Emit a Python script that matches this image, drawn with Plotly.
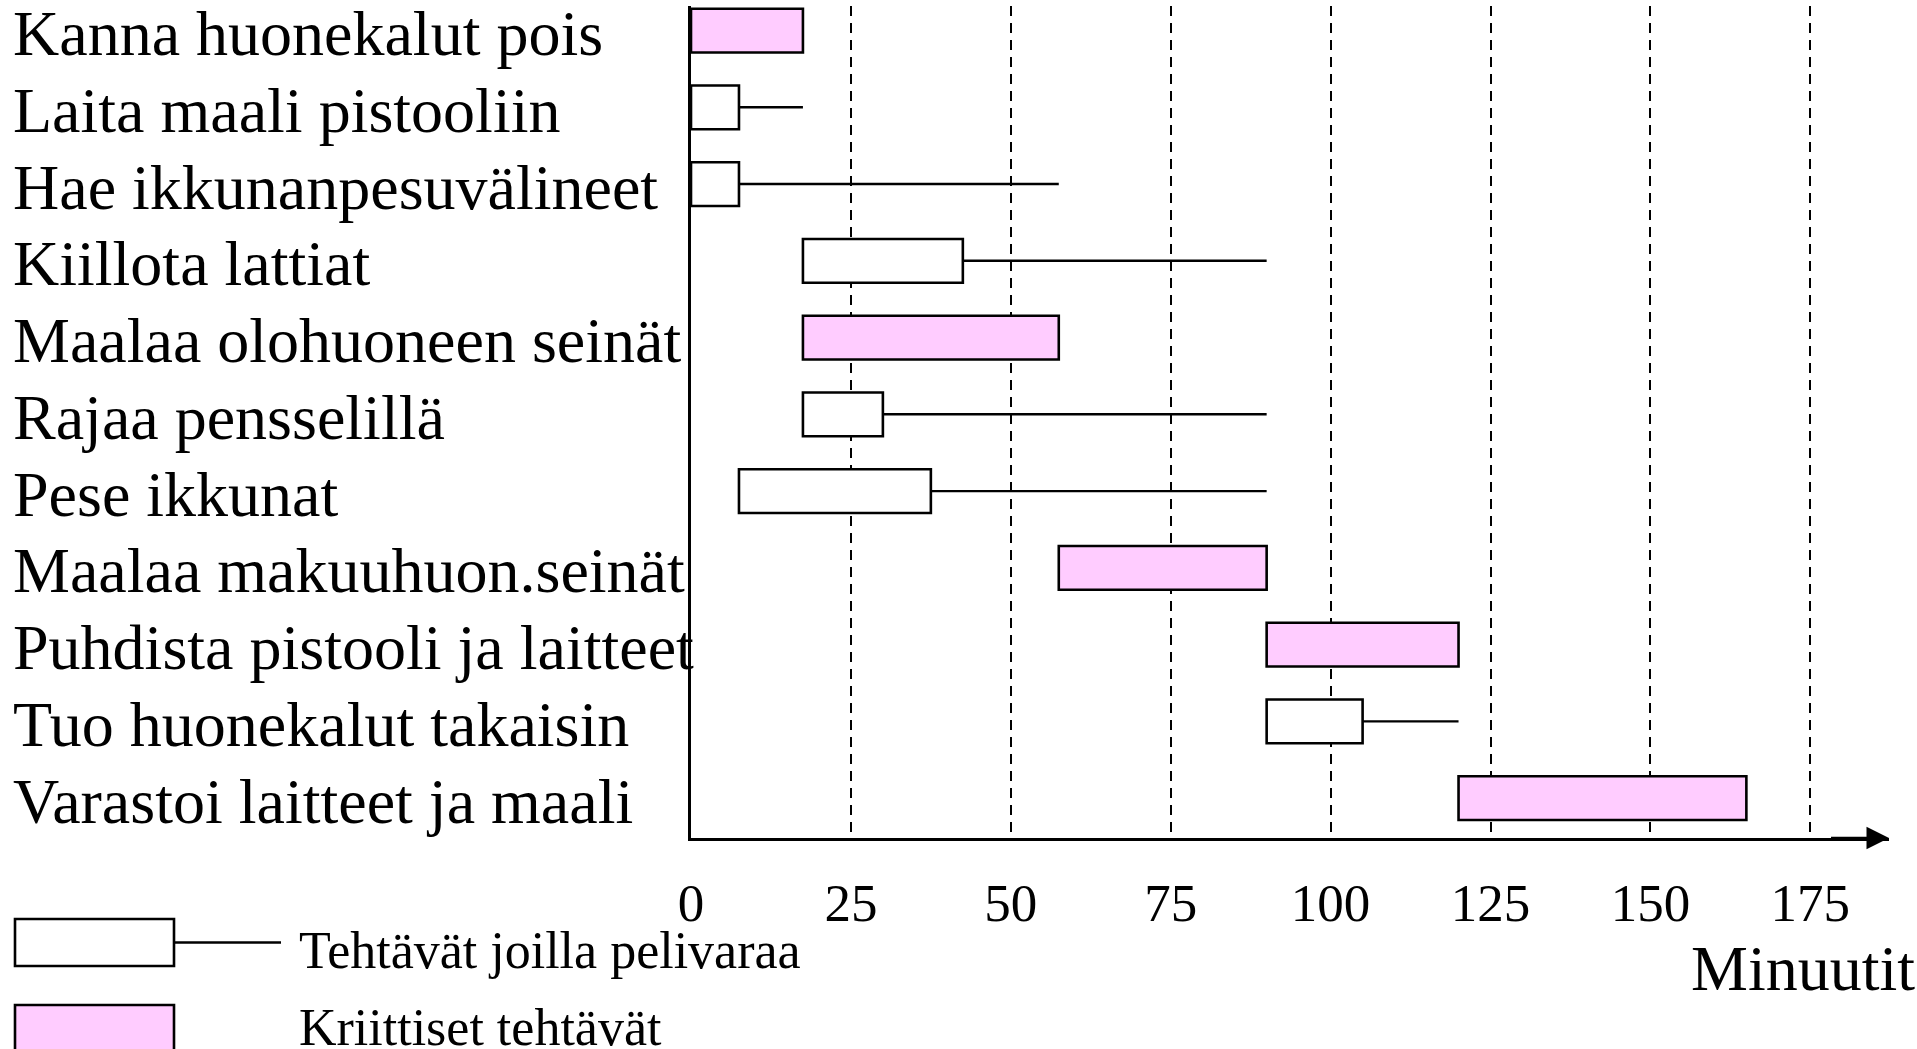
import plotly.graph_objects as go

# ---- data ----
tasks = [
    "Kanna huonekalut pois",
    "Laita maali pistooliin",
    "Hae ikkunanpesuvälineet",
    "Kiillota lattiat",
    "Maalaa olohuoneen seinät",
    "Rajaa pensselillä",
    "Pese ikkunat",
    "Maalaa makuuhuon.seinät",
    "Puhdista pistooli ja laitteet",
    "Tuo huonekalut takaisin",
    "Varastoi laitteet ja maali",
]
start = [0, 0, 0, 17.5, 17.5, 17.5, 7.5, 57.5, 90, 90, 120]
duration = [17.5, 7.5, 7.5, 25, 40, 12.5, 30, 32.5, 30, 15, 45]
slack_end = [None, 17.5, 57.5, 90, None, 90, 90, None, None, 120, None]
critical = [True, False, False, False, True, False, False, True, True, False, True]
x_ticks = [0, 25, 50, 75, 100, 125, 150, 175]
x_title = "Minuutit"
legend_slack = "Tehtävät joilla pelivaraa"
legend_crit = "Kriittiset tehtävät"

# ---- layout geometry (pixels) ----
W, H = 1917, 1049
L, R, T, B = 691, 28, 6, 211
PW, PH = W - L - R, H - T - B
FONT = "Liberation Serif, Times New Roman, serif"
PINK = "#FFCCFF"


def px_x(p):
    return (p - L) / PW


def px_y(p):
    return 1 - (p - T) / PH


rows = list(range(len(tasks)))

fig = go.Figure()

# critical and slack bars
for is_crit, color in [(True, PINK), (False, "white")]:
    idx = [i for i in rows if critical[i] == is_crit]
    fig.add_trace(go.Bar(
        orientation="h",
        y=[rows[i] for i in idx],
        x=[duration[i] for i in idx],
        base=[start[i] for i in idx],
        width=0.57,
        marker=dict(color=color, line=dict(color="black", width=2.6)),
        hoverinfo="skip",
        showlegend=False,
    ))

# slack lines
sx, sy = [], []
for i in rows:
    if slack_end[i] is not None:
        sx += [start[i] + duration[i], slack_end[i], None]
        sy += [rows[i], rows[i], None]
fig.add_trace(go.Scatter(
    x=sx, y=sy, mode="lines",
    line=dict(color="black", width=2.4),
    hoverinfo="skip", showlegend=False,
))

annotations = []
# task labels
for i, name in enumerate(tasks):
    annotations.append(dict(
        text=name, xref="paper", x=px_x(11), xanchor="left",
        yref="y", y=rows[i], yanchor="middle", yshift=-3,
        showarrow=False, font=dict(family=FONT, size=64, color="black"),
    ))
# axis arrow
annotations.append(dict(
    text="", xref="x", yref="y", x=187.3, y=10.52,
    axref="x", ayref="y", ax=178, ay=10.52,
    showarrow=True, arrowhead=2, arrowsize=1.8, arrowwidth=2.5,
    arrowcolor="black", standoff=0,
))
# axis title
annotations.append(dict(
    text=x_title, xref="paper", yref="paper", x=px_x(1803), y=px_y(968),
    xanchor="center", yanchor="middle", showarrow=False,
    font=dict(family=FONT, size=64, color="black"),
))
# legend texts
annotations.append(dict(
    text=legend_slack, xref="paper", yref="paper", x=px_x(297), y=px_y(950),
    xanchor="left", yanchor="middle", showarrow=False,
    font=dict(family=FONT, size=52, color="black"),
))
annotations.append(dict(
    text=legend_crit, xref="paper", yref="paper", x=px_x(297), y=px_y(1027),
    xanchor="left", yanchor="middle", showarrow=False,
    font=dict(family=FONT, size=52, color="black"),
))

shapes = [
    dict(type="rect", xref="paper", yref="paper",
         x0=px_x(15), x1=px_x(174), y0=px_y(919), y1=px_y(966),
         fillcolor="white", line=dict(color="black", width=2.6)),
    dict(type="line", xref="paper", yref="paper",
         x0=px_x(174), x1=px_x(281), y0=px_y(942.5), y1=px_y(942.5),
         line=dict(color="black", width=2.4)),
    dict(type="rect", xref="paper", yref="paper",
         x0=px_x(15), x1=px_x(174), y0=px_y(1005), y1=px_y(1070),
         fillcolor=PINK, line=dict(color="black", width=2.6)),
]

fig.update_layout(
    width=W, height=H,
    margin=dict(l=L, r=R, t=T, b=B, pad=0),
    paper_bgcolor="white", plot_bgcolor="white",
    barmode="overlay",
    showlegend=False,
    annotations=annotations,
    shapes=shapes,
    xaxis=dict(
        range=[0, 187.3], tickvals=x_ticks, ticktext=[str(v) for v in x_ticks],
        showgrid=True, gridcolor="black", gridwidth=2, griddash="10px,7px",
        zeroline=False, showline=True, linecolor="black", linewidth=2.5,
        ticks="", ticklabelstandoff=17,
        tickfont=dict(family=FONT, size=53, color="black"),
        fixedrange=True,
    ),
    yaxis=dict(
        range=[10.52, -0.32], showticklabels=False, showgrid=False,
        zeroline=False, showline=True, linecolor="black", linewidth=2.5,
        fixedrange=True,
    ),
)

fig.write_html(
    "out.html",
    config={"displayModeBar": False},
    post_script="document.body.style.margin='0';document.body.style.overflow='hidden';",
)
